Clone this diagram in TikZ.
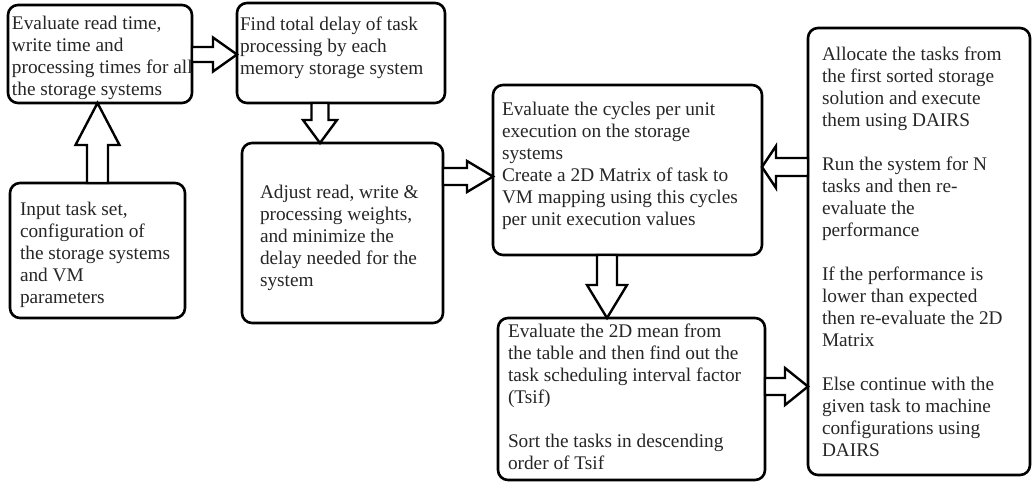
\documentclass[tikz,border=0pt]{standalone}
\usepackage{fontspec}
\setmainfont{Liberation Serif}
\usetikzlibrary{calc}
\tikzset{
 box/.style={draw=black, line width=2.6pt, rounded corners=10pt, fill=white, inner sep=0pt, outer sep=0pt, anchor=north west},
 txt/.style={inner sep=0pt, outer sep=0pt, anchor=north west, align=left, font=\fontsize{19.3}{22}\selectfont, text=black!85},
 blk/.style={draw=black, line width=2.4pt, fill=white, line join=miter},
}
\newcommand{\tstrut}{\rule{0pt}{14pt}}
\begin{document}
\begin{tikzpicture}[x=1pt,y=-1pt]
\useasboundingbox (0,0) rectangle (1032,483);
% boxes
\node[box, minimum width=184, minimum height=98] (A) at (8,5) {};
\node[box, minimum width=208, minimum height=100] (B) at (237,3) {};
\node[box, minimum width=175, minimum height=135] (C) at (10,183) {};
\node[box, minimum width=201, minimum height=180] (D) at (242,143) {};
\node[box, minimum width=269, minimum height=170] (E) at (493,85) {};
\node[box, minimum width=267, minimum height=162] (F) at (498,318) {};
\node[box, minimum width=222, minimum height=447] (G) at (808,28) {};
% texts
\node[txt] (At) at (12,15) {\tstrut Evaluate read time,\\ write time and\\ processing times for all\\ the storage systems};
\node[txt] (Bt) at (240,16) {\tstrut Find total delay of task\\ processing by each\\ memory storage system};
\node[txt] (Ct) at (20,201) {\tstrut Input task set,\\ configuration of\\ the storage systems\\ and VM\\ parameters};
\node[txt] (Dt) at (260,184) {\tstrut Adjust read, write \&\\ processing weights,\\ and minimize the\\ delay needed for the\\ system};
\node[txt] (Et) at (502,101) {\tstrut Evaluate the cycles per unit\\ execution on the storage\\ systems\\ Create a 2D Matrix of task to\\ VM mapping using this cycles\\ per unit execution values};
\node[txt] (Ft) at (508,323) {\tstrut Evaluate the 2D mean from\\ the table and then find out the\\ task scheduling interval factor\\ (Tsif)\\[22pt] Sort the tasks in descending\\ order of Tsif};
\node[txt] (Gt) at (822,46) {\tstrut Allocate the tasks from\\ the first sorted storage\\ solution and execute\\ them using DAIRS\\[22pt] Run the system for N\\ tasks and then re-\\ evaluate the\\ performance\\[22pt] If the performance is\\ lower than expected\\ then re-evaluate the 2D\\ Matrix\\[22pt] Else continue with the\\ given task to machine\\ configurations using\\ DAIRS};
% connector reference lines
\coordinate (ab) at (0,54.5);
\coordinate (ca) at (97.5,0);
\coordinate (bd) at (320,0);
\coordinate (de) at (0,176.5);
\coordinate (ef) at (607,0);
\coordinate (ge) at (0,167);
\coordinate (fg) at (0,386.5);
% A -> B
\draw[blk] ($(A.east|-ab)+(0,-7.5)$) -- ($(B.west|-ab)+(-24,-7.5)$) -- ($(B.west|-ab)+(-24,-17)$) -- (B.west|-ab) -- ($(B.west|-ab)+(-24,17)$) -- ($(B.west|-ab)+(-24,7.5)$) -- ($(A.east|-ab)+(0,7.5)$) -- cycle;
% C -> A (up)
\draw[blk] ($(ca|-C.north)+(-10.5,0)$) -- ($(ca|-A.south)+(-10.5,42)$) -- ($(ca|-A.south)+(-22,42)$) -- (ca|-A.south) -- ($(ca|-A.south)+(22,42)$) -- ($(ca|-A.south)+(10.5,42)$) -- ($(ca|-C.north)+(10.5,0)$) -- cycle;
% B -> D (down)
\draw[blk] ($(bd|-B.south)+(-8.5,0)$) -- ($(bd|-D.north)+(-8.5,-23)$) -- ($(bd|-D.north)+(-17,-23)$) -- (bd|-D.north) -- ($(bd|-D.north)+(17,-23)$) -- ($(bd|-D.north)+(8.5,-23)$) -- ($(bd|-B.south)+(8.5,0)$) -- cycle;
% D -> E
\draw[blk] ($(D.east|-de)+(0,-8.5)$) -- ($(E.west|-de)+(-26,-8.5)$) -- ($(E.west|-de)+(-26,-15.5)$) -- (E.west|-de) -- ($(E.west|-de)+(-26,15.5)$) -- ($(E.west|-de)+(-26,8.5)$) -- ($(D.east|-de)+(0,8.5)$) -- cycle;
% E -> F (down)
\draw[blk] ($(ef|-E.south)+(-10,0)$) -- ($(ef|-F.north)+(-10,-33)$) -- ($(ef|-F.north)+(-20,-33)$) -- (ef|-F.north) -- ($(ef|-F.north)+(20,-33)$) -- ($(ef|-F.north)+(10,-33)$) -- ($(ef|-E.south)+(10,0)$) -- cycle;
% G -> E (left)
\draw[blk] ($(G.west|-ge)+(0,-9)$) -- ($(E.east|-ge)+(14,-9)$) -- ($(E.east|-ge)+(14,-21)$) -- (E.east|-ge) -- ($(E.east|-ge)+(14,21)$) -- ($(E.east|-ge)+(14,9)$) -- ($(G.west|-ge)+(0,9)$) -- cycle;
% F -> G
\draw[blk] ($(F.east|-fg)+(0,-8.5)$) -- ($(G.west|-fg)+(-23,-8.5)$) -- ($(G.west|-fg)+(-23,-18.5)$) -- (G.west|-fg) -- ($(G.west|-fg)+(-23,18.5)$) -- ($(G.west|-fg)+(-23,8.5)$) -- ($(F.east|-fg)+(0,8.5)$) -- cycle;
\end{tikzpicture}
\end{document}
